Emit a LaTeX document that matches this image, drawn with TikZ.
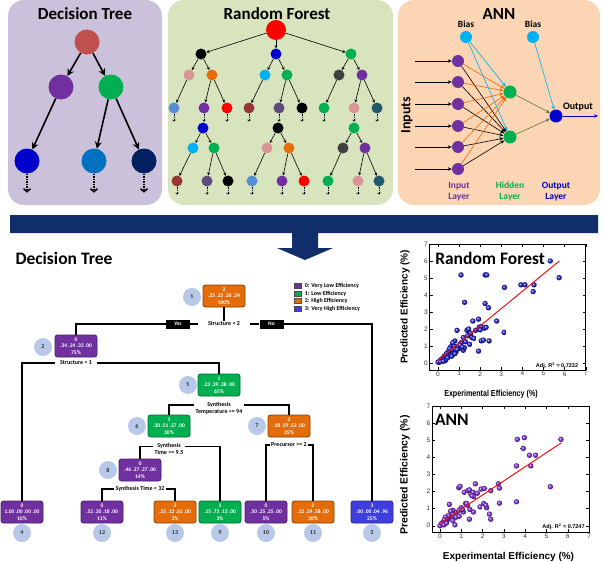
\documentclass[tikz,border=0pt]{standalone}
\usepackage{fontspec}
\usepackage{graphicx}
\setmainfont{Carlito}
\newfontfamily\plotfont{Liberation Sans}
\usetikzlibrary{arrows.meta,positioning,shapes.geometric}
\definecolor{TreePanel}{RGB}{204,193,218}
\definecolor{ForestPanel}{RGB}{215,228,189}
\definecolor{AnnPanel}{RGB}{252,213,181}
\definecolor{Banner}{RGB}{16,46,108}
\definecolor{ClassPurple}{RGB}{112,48,160}
\definecolor{ClassGreen}{RGB}{0,176,80}
\definecolor{ClassOrange}{RGB}{228,108,10}
\definecolor{ClassBlue}{RGB}{62,62,222}
\definecolor{IdBlue}{RGB}{183,200,232}
\definecolor{NodeRed}{RGB}{192,80,77}
\definecolor{NodeBlue}{RGB}{0,0,204}
\definecolor{MidBlue}{RGB}{0,112,192}
\definecolor{Navy}{RGB}{0,32,96}
\definecolor{SoftPink}{RGB}{218,150,148}
\definecolor{Cornflower}{RGB}{85,142,213}
\definecolor{SkyBlue}{RGB}{0,176,240}
\definecolor{DarkRed}{RGB}{149,55,53}
\definecolor{GreyPurple}{RGB}{96,74,123}
\definecolor{DarkGrey}{RGB}{64,64,64}
\definecolor{Teal}{RGB}{33,89,104}
\definecolor{Olive}{RGB}{95,117,48}
\definecolor{FitRed}{RGB}{240,20,20}
\definecolor{PtBlue}{RGB}{25,25,215}
\definecolor{PtPurple}{RGB}{130,40,225}
\tikzset{
  panel/.style={rounded corners=16pt},
  paneltitle/.style={font=\fontsize{17}{20}\selectfont\bfseries},
  treedot/.style={circle,minimum size=25pt,inner sep=0pt},
  treearrow/.style={-{Stealth[length=7pt,width=7pt]},line width=1.6pt},
  moretip/.style={densely dotted,line width=1.5pt,-{Straight Barb[length=3pt,width=7pt]}},
  rfdot/.style={circle,minimum size=11pt,inner sep=0pt},
  rfarrow/.style={-{Stealth[length=3pt,width=3pt]},line width=0.6pt},
  rfmore/.style={densely dotted,line width=0.6pt,-{Straight Barb[length=1.5pt,width=3pt]}},
  neuron/.style={circle,minimum size=12pt,inner sep=0pt},
  annarrow/.style={-{Stealth[length=4pt,width=3.5pt]},line width=0.6pt},
  annlabel/.style={font=\fontsize{9.5}{11}\selectfont\bfseries,align=center},
  classbox/.style={rounded corners=2.5pt,minimum width=42pt,minimum height=22pt,
    inner sep=0.5pt,text=white,align=center,line width=0.8pt,
    font=\fontsize{5.5}{6.5}\selectfont\bfseries},
  purplebox/.style={classbox,fill=ClassPurple,draw=ClassPurple!65!black},
  greenbox/.style={classbox,fill=ClassGreen,draw=ClassGreen!60!black},
  orangebox/.style={classbox,fill=ClassOrange,draw=ClassOrange!60!black},
  bluebox/.style={classbox,fill=ClassBlue,draw=ClassBlue!60!black},
  idcircle/.style={circle,fill=IdBlue,minimum size=18pt,inner sep=0pt,
    font=\fontsize{6}{7}\selectfont\bfseries,text=black!80},
  splitlabel/.style={font=\fontsize{6}{7}\selectfont\bfseries,align=center,inner sep=1pt},
  yesno/.style={fill=black,text=white,minimum width=24pt,minimum height=9pt,
    inner sep=0pt,font=\fontsize{5.5}{6}\selectfont\bfseries},
  dtline/.style={line width=1.6pt},
  legendkey/.style={minimum width=7pt,minimum height=5pt,inner sep=0pt,draw=black!70,line width=0.4pt},
  legendtext/.style={font=\fontsize{6}{7}\selectfont\bfseries,inner sep=0pt,anchor=west},
  ticklabel/.style={font=\plotfont\fontsize{6.5}{7}\selectfont,text=black!80,inner sep=1.5pt},
  axislabel/.style={font=\plotfont\fontsize{10}{12}\selectfont\bfseries},
  fitline/.style={FitRed,line width=1pt}
}

\begin{document}
\begin{tikzpicture}[x=1pt,y=-1pt]
  \useasboundingbox (0,0) rectangle (603,562);
  % Top panels
  \fill[TreePanel,panel] (8,0) rectangle (162,205);
  \fill[ForestPanel,panel] (168,0) rectangle (393,205);
  \fill[AnnPanel,panel] (398,0) rectangle (600,205);
  \node[paneltitle] (dttitle) at (85,14) {Decision Tree};
  \node[paneltitle] (rftitle) at (277,14) {Random Forest};
  \node[paneltitle] (anntitle) at (499,14) {ANN};

  % Small decision tree
  \node[treedot,fill=NodeRed] (dt0) at (87,42) {};
  \node[treedot,fill=ClassPurple] (dt1) at (61,87) {};
  \node[treedot,fill=ClassGreen] (dt2) at (111,87) {};
  \node[treedot,fill=NodeBlue] (dt3) at (27,161) {};
  \node[treedot,fill=MidBlue] (dt4) at (94,161) {};
  \node[treedot,fill=Navy] (dt5) at (144,161) {};
  \draw[treearrow] (dt0) -- (dt1);
  \draw[treearrow] (dt0) -- (dt2);
  \draw[treearrow] (dt1) -- (dt3);
  \draw[treearrow] (dt2) -- (dt4);
  \draw[treearrow] (dt2) -- (dt5);
  \foreach \n in {dt3,dt4,dt5}
    \draw[moretip] (\n.south) -- ([yshift=-19pt]\n.south);

  % Random forest
  \node[rfdot,minimum size=20pt,fill=red] (rf0) at (276,30) {};
  \foreach \n/\x/\y/\col in {
      ta/201/54/black, ta1/189/75/SoftPink, ta2/212/75/ClassOrange,
      ta3/174/108/Cornflower, ta4/204/108/ClassPurple, ta5/227/108/red,
      tb/276/54/NodeBlue, tb1/265/75/SkyBlue, tb2/287/75/ClassGreen,
      tb3/249/108/DarkRed, tb4/279/108/GreyPurple, tb5/302/108/black,
      tc/351/54/ClassGreen, tc1/339/75/DarkGrey, tc2/362/75/ClassPurple,
      tc3/324/108/ClassGreen, tc4/354/108/SoftPink, tc5/377/108/Teal,
      td/203/128/NodeBlue, td1/193/148/SkyBlue, td2/214/148/ClassGreen,
      td3/177/181/DarkRed, td4/207/181/GreyPurple, td5/228/181/black,
      te/278/128/black, te1/267/148/SoftPink, te2/289/148/ClassOrange,
      te3/252/181/Cornflower, te4/282/181/ClassPurple, te5/304/181/red,
      tf/354/128/ClassGreen, tf1/343/148/DarkGrey, tf2/365/148/ClassPurple,
      tf3/328/181/ClassGreen, tf4/358/181/SoftPink, tf5/379/181/Teal}
    \node[rfdot,fill=\col] (\n) at (\x,\y) {};
  \foreach \tr in {a,b,c}
    \draw[rfarrow] (rf0) -- (t\tr);
  \foreach \tr in {a,b,c,d,e,f} {
    \draw[rfarrow] (t\tr) -- (t\tr1);
    \draw[rfarrow] (t\tr) -- (t\tr2);
    \draw[rfarrow] (t\tr1) -- (t\tr3);
    \draw[rfarrow] (t\tr2) -- (t\tr4);
    \draw[rfarrow] (t\tr2) -- (t\tr5);
    \foreach \k in {3,4,5}
      \draw[rfmore] (t\tr\k.south) -- ([yshift=-8pt]t\tr\k.south);
  }

  % ANN
  \node[neuron,fill=SkyBlue] (b1) at (466,37) {};
  \node[neuron,fill=SkyBlue] (b2) at (533,37) {};
  \node[annlabel,above=0pt of b1] (b1lab) {Bias};
  \node[annlabel,above=0pt of b2] (b2lab) {Bias};
  \node[neuron,minimum size=13pt,fill=ClassGreen] (h1) at (510,92) {};
  \node[neuron,minimum size=13pt,fill=ClassGreen] (h2) at (510,137) {};
  \node[neuron,minimum size=13pt,fill=NodeBlue] (out) at (556,116) {};
  \coordinate (outend) at (598,116);
  \foreach \i/\y in {1/61,2/82,3/104,4/126,5/147,6/169} {
    \node[neuron,fill=ClassPurple] (in\i) at (458,\y) {};
    \coordinate (src\i) at (415,\y);
    \draw[annarrow] (src\i) -- (in\i);
  }
  \foreach \i in {1,...,6} {
    \draw[annarrow,ClassOrange] (in\i) -- (h1);
    \draw[annarrow] (in\i) -- (h2);
  }
  \draw[annarrow,SkyBlue] (b1) -- (h1);
  \draw[annarrow,SkyBlue] (b1) -- (h2);
  \draw[annarrow,SkyBlue] (b2) -- (out);
  \draw[annarrow,Olive] (h1) -- (out);
  \draw[annarrow,Olive] (h2) -- (out);
  \draw[annarrow,NodeBlue] (out) -- (outend);
  \node[annlabel,font=\fontsize{10}{11}\selectfont\bfseries] (outlab) at (578,107) {Output};
  \node[rotate=90,font=\fontsize{14}{16}\selectfont\bfseries] (inputs) at (407,115) {Inputs};
  \node[annlabel,text=ClassPurple] (inlay) at (459,191.5) {Input\\Layer};
  \node[annlabel,text=ClassGreen] (hidlay) at (510,191.5) {Hidden\\Layer};
  \node[annlabel,text=NodeBlue] (outlay) at (556,191.5) {Output\\Layer};

  % Banner arrow
  \fill[Banner] (10,215) -- (598,215) -- (598,233) -- (318,233) -- (318,248)
    -- (333,248) -- (305,260) -- (277,248) -- (292,248) -- (292,233) -- (10,233) -- cycle;

  % Decision tree (full)
  \node[font=\fontsize{17.5}{20}\selectfont\bfseries,anchor=west] (bigtitle) at (12,258) {Decision Tree};
  \node[orangebox] (n1) at (224,296) {2\\.25 .25 .26 .24\\100\%};
  \node[idcircle] (id1) at (192,297) {1};
  \node[splitlabel,inner xsep=10pt] (s1) at (224,324) {Structure < 2};
  \node[yesno] (yes) at (178,324) {Yes};
  \node[yesno] (no) at (271.5,324) {No};
  \node[purplebox] (n2) at (76,346) {0\\.34 .34 .33 .00\\75\%};
  \node[idcircle] (id2) at (43,347) {2};
  \node[splitlabel,inner xsep=5pt] (s2) at (76,363) {Structure < 1};
  \node[greenbox] (n5) at (219,385) {1\\.23 .39 .38 .00\\65\%};
  \node[idcircle] (id5) at (188,385) {5};
  \node[splitlabel] (s5) at (219,408.5) {Synthesis\\Temperature >= 94};
  \node[greenbox] (n6) at (169,426) {1\\.30 .51 .27 .00\\30\%};
  \node[idcircle] (id6) at (137,426) {6};
  \node[splitlabel] (s6) at (169,448.5) {Synthesis\\Time >= 9.5};
  \node[orangebox] (n7) at (289,426) {2\\.18 .29 .53 .00\\35\%};
  \node[idcircle] (id7) at (257,426) {7};
  \node[splitlabel] (s7) at (289,445) {Precursor >= 2};
  \node[purplebox] (n8) at (140,470) {0\\.46 .27 .27 .00\\14\%};
  \node[idcircle] (id8) at (108,470) {8};
  \node[splitlabel] (s8) at (140,489) {Synthesis Time < 32};
  % leaves
  \node[purplebox] (n4) at (22,512) {0\\1.00 .00 .00 .00\\10\%};
  \node[purplebox] (n12) at (102,512) {0\\.52 .30 .18 .00\\11\%};
  \node[orangebox] (n13) at (175,512) {2\\.25 .12 .61 .00\\3\%};
  \node[greenbox] (n9) at (220,512) {1\\.15 .72 .13 .00\\3\%};
  \node[purplebox] (n10) at (266,512) {0\\.50 .25 .25 .00\\5\%};
  \node[orangebox] (n11) at (313,512) {2\\.12 .29 .58 .00\\30\%};
  \node[bluebox] (n3) at (372,512) {3\\.00 .00 .04 .96\\25\%};
  \foreach \n/\x in {4/22,12/102,13/175,9/220,10/266,11/313,3/372}
    \node[idcircle] (id\n) at (\x,533) {\n};
  % splits
  \draw[dtline] (n1) -- (s1);
  \draw[dtline] (s1) -- (yes) -| (n2);
  \draw[dtline] (s1) -- (no) -| (n3);
  \draw[dtline] (s2) -| (n4);
  \draw[dtline] (s2) -| (n5);
  \draw[dtline] ([yshift=3.5pt]s5.west) -| (n6);
  \draw[dtline] ([yshift=3.5pt]s5.east) -| (n7);
  \draw[dtline] ([yshift=2pt]s6.west) -| (n8);
  \draw[dtline] ([yshift=2pt]s6.east) -| (n9);
  \draw[dtline] (s8) -| (n12);
  \draw[dtline] (s8) -| (n13);
  \draw[dtline] (s7) -| (n10);
  \draw[dtline] (s7) -| (n11);
  % legend
  \foreach \k/\y/\col/\txt in {0/286/ClassPurple/Very Low Efficiency,1/293.5/ClassGreen/Low Efficiency,
      2/301/ClassOrange/High Efficiency,3/308.5/ClassBlue/Very High Efficiency} {
    \node[legendkey,fill=\col] (key\k) at (298,\y) {};
    \node[legendtext,right=3pt of key\k] (keytxt\k) {\k: \txt};
  }

  % Random forest plot
  \begin{scope}[shift={(438,363)},x=21.1pt,y=17pt]
    \draw[line width=0.5pt] (-0.4,-0.4) rectangle (7,7);
    \foreach \t in {0,...,7} {
      \draw[line width=0.4pt] (\t,-0.4) -- ++(0,0.18) (\t,7) -- ++(0,-0.18);
      \draw[line width=0.4pt] (-0.4,\t) -- ++(0.14,0) (7,\t) -- ++(-0.14,0);
      \node[ticklabel,below] at (\t,-0.4) {\t};
      \node[ticklabel,left] at (-0.4,\t) {\t};
    }
    \foreach \x/\y in {5.32/6.0,5.74/5.02,1.09/5.18,2.23/5.18,2.31/5.18,3.93/4.6,4.12/4.6,
        4.55/4.6,4.51/4.2,3.15/4.45,1.26/3.57,2.23/3.5,2.39/3.25,1.65/2.47,1.92/2.58,
        2.78/2.47,3.13/1.8,0.9/1.92,1.37/1.92,1.45/2.0,1.78/1.92,1.95/2.1,2.05/2.15,
        2.2/2.05,2.28/2.1,2.0/1.95,2.42/1.3,2.05/1.3,2.15/1.35,1.92/0.7,1.6/1.5,1.7/1.45,
        1.5/1.1,1.3/1.25,1.2/1.5,1.4/1.6,1.55/1.75,1.1/1.2,1.0/0.85,0.95/1.0,0.8/1.3,
        0.75/1.0,0.7/1.2,0.65/0.75,0.6/0.95,0.55/0.6,0.5/0.7,0.45/0.5,0.4/0.55,0.35/0.35,
        0.3/0.4,0.25/0.3,0.2/0.25,0.15/0.2,0.1/0.15,0.05/0.05,0.0/0.05,0.12/0.08,0.3/0.2,
        0.5/0.4,0.6/0.45,0.7/0.5,0.85/0.65,0.9/0.8,1.2/0.75,1.25/0.9,0.65/0.4,0.45/0.3,
        0.35/0.15,0.25/0.1,0.8/0.55,1.05/1.05,1.15/0.95,0.55/0.85}
      \shade[ball color=PtBlue] (\x,\y) circle[radius=2.7pt];
    \draw[fitline] (0,0.15) -- (5.75,6.0);
    \node[anchor=west,inner sep=0pt,font=\fontsize{17.5}{20}\selectfont\bfseries] (rfplottitle) at (-0.14,6.18) {Random Forest};
    \node[font=\plotfont\fontsize{5.5}{6}\selectfont\bfseries] (rfr2) at (5.64,-0.18) {Adj. R\textsuperscript{2} = 0.7232};
  \end{scope}
  \node[axislabel,rotate=90] (rfy) at (405,307) {Predicted Efficiency (\%)};
  \node[axislabel] (rfx) at (491,394) {\scalebox{0.81}[1]{\fontsize{8.8}{10}\selectfont Experimental Efficiency (\%)}};

  % ANN plot
  \begin{scope}[shift={(440,525.7)},x=21.3pt,y=17.1pt]
    \draw[line width=0.5pt] (-0.38,-0.37) rectangle (7,7);
    \foreach \t in {0,...,7} {
      \draw[line width=0.4pt] (\t,-0.37) -- ++(0,0.18) (\t,7) -- ++(0,-0.18);
      \draw[line width=0.4pt] (-0.38,\t) -- ++(0.14,0) (7,\t) -- ++(-0.14,0);
      \node[ticklabel,below] at (\t,-0.37) {\t};
      \node[ticklabel,left] at (-0.38,\t) {\t};
    }
    \foreach \x/\y in {5.68/5.05,3.63/5.05,3.96/5.15,3.91/4.52,4.2/4.12,4.49/4.12,4.26/3.5,
        3.59/3.5,5.18/2.28,3.59/1.4,0.88/2.22,0.94/2.3,1.66/2.45,2.74/2.45,2.79/2.2,
        1.93/2.14,2.08/2.18,2.38/2.05,1.14/1.95,1.3/2.05,1.38/2.1,1.45/1.85,1.55/1.95,
        1.6/1.7,1.75/1.9,1.5/1.75,2.79/1.32,1.88/1.1,2.19/1.05,2.32/0.68,2.38/0.38,
        1.38/0.38,1.57/0.8,0.7/0.05,0.44/1.25,1.2/1.3,1.3/1.2,1.0/1.05,0.9/0.9,1.1/0.8,
        0.8/0.6,0.7/0.8,0.6/0.9,0.5/0.85,0.55/0.5,0.45/0.55,0.4/0.6,0.35/0.35,0.3/0.4,
        0.25/0.5,0.2/0.25,0.15/0.2,0.1/0.1,0.05/0.05,0.0/0.0,0.08/0.15,0.18/0.05,0.3/0.15,
        0.6/0.3,0.75/0.5,0.9/0.55,1.05/0.95,1.4/0.95,0.2/0.35,1.25/1.3,2.05/1.3,2.15/1.2}
      \shade[ball color=PtPurple] (\x,\y) circle[radius=2.7pt];
    \draw[fitline] (0,0.15) -- (5.7,4.85);
    \node[anchor=west,inner sep=0pt,font=\fontsize{17.5}{20}\selectfont\bfseries] (annplottitle) at (-0.24,6.18) {ANN};
    \node[font=\plotfont\fontsize{5.5}{6}\selectfont\bfseries] (annr2) at (5.8,-0.08) {Adj. R\textsuperscript{2} = 0.7247};
  \end{scope}
  \node[axislabel,rotate=90,font=\plotfont\fontsize{10.5}{12}\selectfont\bfseries] (anny) at (405,475) {Predicted Efficiency (\%)};
  \node[axislabel] (annx) at (508.5,557) {Experimental Efficiency (\%)};
\end{tikzpicture}
\end{document}
